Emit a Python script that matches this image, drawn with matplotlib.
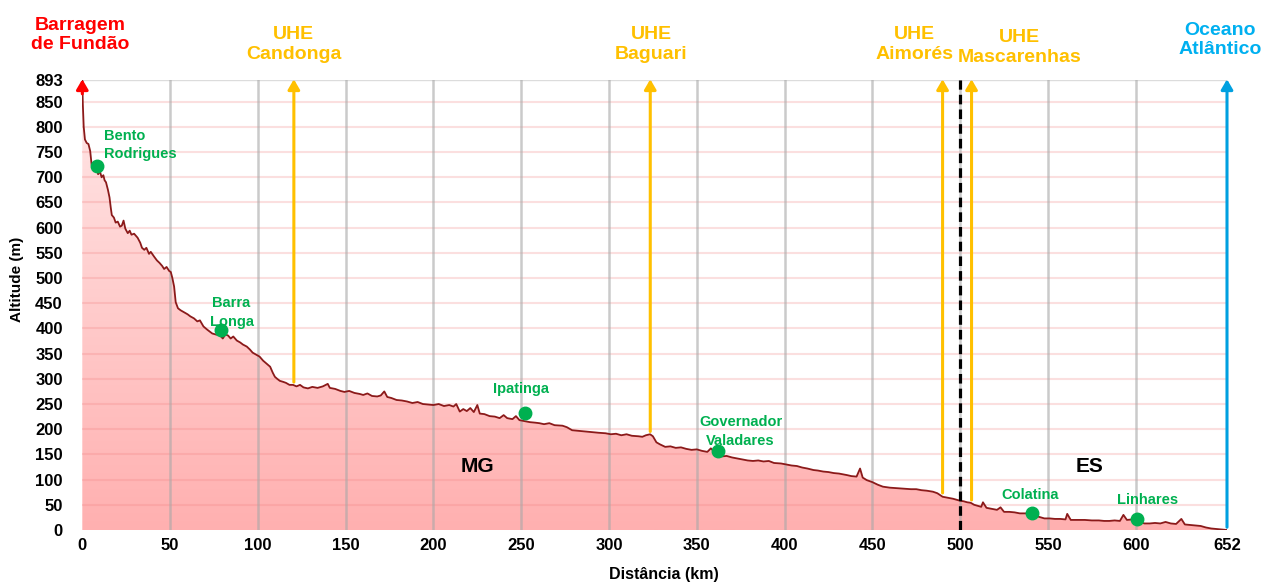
import numpy as np
import matplotlib
matplotlib.use("Agg")
import matplotlib.pyplot as plt
from matplotlib.colors import LinearSegmentedColormap
from matplotlib.patches import Polygon

# River profile (km from the dam, altitude in m)
dist_km = [0, 0.3, 0.8, 1.5, 2.5, 3.5, 4.5, 5.3, 6.0, 7.0, 8.0, 9.0, 10.0, 11.0, 12.0, 12.7, 13.5,
           14.6, 15.5, 16.2, 16.8, 18.0, 19.0, 20.2, 21.5, 22.5, 23.5, 24.5, 25.9, 27.0, 28.0, 29.5,
           31.5, 33.0, 34.0, 35.3, 36.5, 38.0, 39.0, 41.0, 42.5, 44.0, 45.5, 46.6, 48.0, 49.5, 50.4,
           51.3, 52.3, 53.2, 54.5, 56.0, 58.0, 60.0, 61.5, 63.6, 65.5, 67.0, 69.0, 71.0, 72.5, 74.0,
           76.0, 78.6, 80.0, 81.5, 83.0, 84.5, 86.0, 88.0, 90.0, 91.5, 93.7, 95.5, 97.0, 99.0, 101.0,
           103.0, 105.0, 107.0, 108.5, 109.7, 111.0, 112.5, 114.4, 116.0, 118.0, 120.0, 122, 124, 126,
           128.5, 131, 134, 137, 139.8, 141, 144, 147, 149.3, 152, 155, 158, 160, 162.4, 165, 168, 170,
           172, 173.7, 176, 179, 182, 185, 188, 191, 194, 197, 200, 203, 206, 209, 211.4, 213, 215,
           217, 219, 221, 223, 225, 226.4, 229, 232, 235, 237.7, 240, 242, 245, 247, 249, 252, 255,
           258, 260.3, 263, 266, 269, 273.5, 276, 279, 282, 285, 288, 291, 294, 298, 301, 304, 307,
           310, 313, 316.8, 319, 321, 323.4, 325, 327, 329, 332, 335, 338, 341, 344, 347, 350, 353,
           356, 358, 360, 362, 364, 367, 370, 373, 376, 379, 382, 385, 388, 391, 394, 398, 401, 404,
           407, 410, 413, 416.5, 419, 422, 425, 428, 431, 435.5, 438, 441, 443, 444.5, 446.8, 450,
           453, 456, 460, 464, 468, 472, 475, 478, 481, 484.5, 487, 490, 493, 496, 498, 500, 502, 504,
           506, 508, 510, 512, 513, 515, 518, 521, 523, 525, 528, 531, 534, 537, 540, 542, 545, 548,
           551, 554, 557, 560, 561, 563, 567, 571, 575, 579, 582, 585, 588, 591, 593, 595, 598, 601,
           603, 605, 608, 611, 614, 617, 620, 623, 626, 628, 631, 634, 637, 640, 643, 646, 649, 652]
alt_m = [893, 845, 800, 775, 768, 766, 752, 725, 718, 712, 722, 706, 712, 700, 704, 694, 690,
         675, 660, 640, 625, 620, 610, 612, 602, 604, 614, 598, 589, 594, 586, 588,
         580, 570, 560, 556, 560, 548, 552, 542, 535, 530, 524, 518, 522, 514, 512,
         500, 483, 452, 440, 436, 432, 428, 424, 420, 414, 416, 404, 398, 394, 390,
         388, 386, 380, 388, 386, 380, 384, 376, 372, 368, 364, 358, 352, 348, 344,
         336, 330, 324, 312, 304, 300, 296, 294, 292, 288, 288, 285, 288, 283,
         281, 284, 282, 285, 290, 282, 280, 276, 274, 276, 272, 270, 268, 271, 266, 265, 267,
         275, 264, 262, 258, 257, 255, 252, 254, 250, 249, 248, 250, 246, 248, 245, 250, 235,
         240, 236, 242, 234, 248, 231, 230, 226, 225, 222, 228, 222, 220, 226, 218, 216, 214,
         213, 212, 210, 212, 208, 207, 204, 198, 197, 196, 195, 194, 193, 192, 190, 191, 188,
         190, 187, 186, 185, 188, 190, 186, 174, 170, 165, 166, 163, 164, 161, 159, 160, 157,
         155, 162, 156, 150, 146, 147, 144, 142, 140, 138, 137, 138, 136, 137, 133, 132, 130, 128,
         127, 124, 122, 119, 118, 116, 115, 113, 112, 109, 107, 106, 122, 104, 99, 95,
         90, 86, 84, 83, 82, 81, 81, 79, 78, 76, 73, 66, 64, 62, 60, 58, 57, 55,
         54, 50, 48, 46, 55, 44, 42, 40, 45, 36, 36, 35, 33, 33, 33, 30, 26, 23,
         23, 22, 22, 21, 32, 20, 20, 20, 19, 19, 18, 18, 19, 18, 30, 20, 21, 20,
         15, 13, 13, 14, 13, 16, 13, 12, 22, 11, 10, 9, 8, 5, 3, 2, 1, 0]

# Towns along the river
town_names = ["Bento\nRodrigues", "Barra\nLonga", "Ipatinga", "Governador\nValadares", "Colatina", "Linhares"]
town_km = [8.6, 79, 252, 362, 541, 601]
town_alt = [722, 397, 232, 157, 33, 21]

# Hydroelectric plants
uhe_names = ["UHE\nCandonga", "UHE\nBaguari", "UHE\nAimorés", "UHE\nMascarenhas"]
uhe_km = [120.5, 323.5, 490, 506.5]
uhe_alt = [288, 190, 68, 54]

state_border_km = 500
x_ticks = [0, 50, 100, 150, 200, 250, 300, 350, 400, 450, 500, 550, 600, 652]
y_ticks = [0, 50, 100, 150, 200, 250, 300, 350, 400, 450, 500, 550, 600, 650, 700, 750, 800, 850, 893]

plt.rcParams['font.family'] = ["Liberation Sans", "DejaVu Sans"]

fig = plt.figure(figsize=(12.66, 5.85), dpi=100)
ax = fig.add_axes([82.3 / 1266, 55 / 585, (1227 - 82.3) / 1266, 450 / 585])
ax.set_xlim(0, 652)
ax.set_ylim(0, 893)

# gradient fill under the profile
grad = np.linspace(0, 1, 256).reshape(-1, 1)
cmap = LinearSegmentedColormap.from_list("pk", ["#ffb0b0", "#ffe8e8"])
im = ax.imshow(grad, extent=[0, 652, 0, 893], origin="lower", aspect="auto", cmap=cmap, zorder=1)
verts = np.column_stack([[0] + dist_km + [652], [0] + alt_m + [0]])
clip = Polygon(verts, closed=True, facecolor="none", edgecolor="none", transform=ax.transData)
ax.add_patch(clip)
im.set_clip_path(clip)

# grid
for y in y_ticks[1:-1]:
    ax.axhline(y, color="#f08080", alpha=0.25, lw=1.5, zorder=2)
ax.axhline(893, color="#dcdcdc", lw=1, zorder=2)
for x in x_ticks[1:-1]:
    ax.axvline(x, color="#a8a8a8", alpha=0.6, lw=1.8, zorder=2)

ax.plot(dist_km, alt_m, color="#8b1a1a", lw=1.3, zorder=4)

# state border
ax.plot([state_border_km, state_border_km], [0, 893], color="black", lw=2.3, ls=(0, (3, 1.6)), zorder=5)

# arrows
arrow_kw = dict(arrowstyle="-|>,head_width=0.35,head_length=0.6", lw=2.2)
for k, a in zip(uhe_km, uhe_alt):
    ax.annotate("", xy=(k, 900), xytext=(k, a), annotation_clip=False,
                arrowprops=dict(color="#ffc000", **arrow_kw), zorder=6)
ax.annotate("", xy=(0, 900), xytext=(0, 860), annotation_clip=False,
            arrowprops=dict(color="#ff0000", **arrow_kw), zorder=6)
ax.annotate("", xy=(652, 900), xytext=(652, 0), annotation_clip=False,
            arrowprops=dict(color="#00a0e0", **arrow_kw), zorder=6)

# top labels
top_kw = dict(ha="center", va="center", fontsize=14, fontweight="bold", linespacing=1.2, clip_on=False)
ax.text(-1, 982, "Barragem\nde Fundão", color="#ff0000", **top_kw)
ax.text(120.5, 964, uhe_names[0], color="#ffc000", **top_kw)
ax.text(324, 964, uhe_names[1], color="#ffc000", **top_kw)
ax.text(474, 964, uhe_names[2], color="#ffc000", **top_kw)
ax.text(534, 958, uhe_names[3], color="#ffc000", **top_kw)
ax.text(648, 972, "Oceano\nAtlântico", color="#00b0f0", **top_kw)

# towns
ax.plot(town_km, town_alt, "o", color="#00b050", ms=9, zorder=7)
lbl_pos = [(12.5, 764, "left"), (85, 431, "center"), (250, 280, "center"),
           (375, 196, "center"), (540, 69, "center"), (607, 59, "center")]
for name, (lx, ly, ha) in zip(town_names, lbl_pos):
    ax.text(lx, ly, name, color="#00b050", fontsize=10.5, fontweight="bold", ha=ha, va="center",
            linespacing=1.45, zorder=7)

ax.text(225, 127, "MG", fontsize=15, fontweight="bold", ha="center", va="center", zorder=7)
ax.text(574, 127, "ES", fontsize=15, fontweight="bold", ha="center", va="center", zorder=7)

ax.set_xticks(x_ticks)
ax.set_yticks(y_ticks)
ax.tick_params(axis="both", length=0, labelsize=12)
ax.tick_params(axis="y", pad=14)
ax.tick_params(axis="x", pad=6)
for lab in ax.get_xticklabels() + ax.get_yticklabels():
    lab.set_fontweight("bold")
for s in ax.spines.values():
    s.set_visible(False)

ax.set_xlabel("Distância (km)", fontsize=11.5, fontweight="bold")
ax.set_ylabel("Altitude (m)", fontsize=11, fontweight="bold")
ax.xaxis.set_label_coords(0.508, -0.082)
ax.yaxis.set_label_coords(-0.051, 0.556)

fig.savefig("out.png", dpi=100)
